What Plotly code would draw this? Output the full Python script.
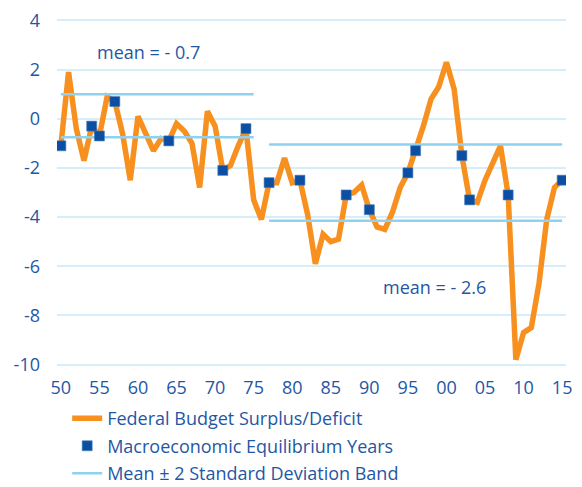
import plotly.graph_objects as go

# Federal budget surplus/deficit, % of GDP
years = list(range(1950, 2016))
balance = [
    -1.1, 1.9, -0.4, -1.7, -0.3, -0.7, 0.9, 0.7, -0.6, -2.5,
    0.1, -0.6, -1.3, -0.8, -0.9, -0.2, -0.5, -1.0, -2.8, 0.3,
    -0.3, -2.1, -1.9, -1.1, -0.4, -3.3, -4.1, -2.6, -2.6, -1.6,
    -2.6, -2.5, -3.9, -5.9, -4.7, -5.0, -4.9, -3.1, -3.0, -2.7,
    -3.7, -4.4, -4.5, -3.8, -2.8, -2.2, -1.3, -0.3, 0.8, 1.3,
    2.3, 1.2, -1.5, -3.3, -3.4, -2.5, -1.8, -1.1, -3.1, -9.8,
    -8.7, -8.5, -6.7, -4.1, -2.8, -2.5,
]

# macroeconomic equilibrium years
eq_years = [1950, 1954, 1955, 1957, 1964, 1971, 1974, 1977, 1981,
            1987, 1990, 1995, 1996, 2002, 2003, 2008, 2015]

# band lines per period
band_start = [1950, 1977]
band_end = [1975, 2015]
band_upper = [1.0, -1.05]
band_lower = [-0.75, -4.15]

mean_labels = ["mean = - 0.7", "mean = - 2.6"]
mean_label_x = [1961.4, 1998.4]
mean_label_y = [2.7, -6.85]

tick_years = list(range(1950, 2016, 5))
tick_text = [str(y)[2:] for y in tick_years]
boundary_ticks = [y - 0.5 for y in tick_years]
y_ticks = list(range(-10, 5, 2))
y_tick_text = [str(v) for v in y_ticks]

y_range = [-10.1, 4.1]
x_range = [1949.5, 2015.5]

BLUE_TXT = "#1f57a3"
ORANGE = "#f7901e"
MARKER = "#0b4ea2"
BAND = "#8fd1ef"
GRID = "#d5eef9"
AXIS = "#2f5a9e"
FONT = "Open Sans"

lookup = dict(zip(years, balance))
eq_values = [lookup[y] for y in eq_years]

band_x, band_y = [], []
for s, e, u, l in zip(band_start, band_end, band_upper, band_lower):
    band_x += [s, e, None, s, e, None]
    band_y += [u, u, None, l, l, None]

fig = go.Figure()

fig.add_trace(go.Scatter(
    x=years, y=balance, mode="lines",
    name="Federal Budget Surplus/Deficit",
    line=dict(color=ORANGE, width=5.5),
    legendgroup="a", legendrank=1,
))

fig.add_trace(go.Scatter(
    x=band_x, y=band_y, mode="lines",
    name="Mean \u00b1 2 Standard Deviation Band",
    line=dict(color=BAND, width=2.5),
    legendgroup="c", legendrank=3,
))

fig.add_trace(go.Scatter(
    x=eq_years, y=eq_values, mode="markers",
    name="Macroeconomic Equilibrium Years",
    marker=dict(color=MARKER, size=10, symbol="square",
                line=dict(color="#4a7fc0", width=0.6)),
    legendgroup="b", legendrank=2,
))

for txt, xv, yv in zip(mean_labels, mean_label_x, mean_label_y):
    fig.add_annotation(x=xv, y=yv, text=txt, showarrow=False,
                       font=dict(family=FONT, size=18, color=BLUE_TXT))

zero_pos = (0 - y_range[0]) / (y_range[1] - y_range[0])

# page body has an 8px margin, so margins are shifted to compensate
fig.update_layout(
    width=582, height=487,
    margin=dict(l=49, r=24, t=10, b=128, autoexpand=False),
    plot_bgcolor="white", paper_bgcolor="white",
    font=dict(family=FONT, size=18, color=BLUE_TXT),
    showlegend=True,
    legend=dict(
        x=0.02, y=-0.095, xanchor="left", yanchor="top",
        traceorder="grouped", tracegroupgap=1,
        font=dict(family=FONT, size=18, color=BLUE_TXT),
        bgcolor="rgba(0,0,0,0)",
    ),
    xaxis=dict(
        range=x_range, tickvals=tick_years, ticktext=tick_text,
        showgrid=False, zeroline=False, showline=False, ticks="",
        ticklabelstandoff=8, automargin=False,
    ),
    xaxis2=dict(
        range=x_range, overlaying="x", anchor="free", position=zero_pos,
        showline=True, linecolor=AXIS, linewidth=2,
        tickvals=boundary_ticks, ticks="outside", ticklen=5,
        tickcolor=AXIS, tickwidth=1.5, showticklabels=False,
        showgrid=False, zeroline=False,
    ),
    yaxis=dict(
        range=y_range, tickvals=y_ticks, ticktext=y_tick_text,
        showgrid=True, gridcolor=GRID, gridwidth=1.5,
        zeroline=False, showline=False, ticks="",
        ticklabelstandoff=16, automargin=False,
        ticklabeloverflow="allow",
    ),
)

fig.write_html("out.html")
